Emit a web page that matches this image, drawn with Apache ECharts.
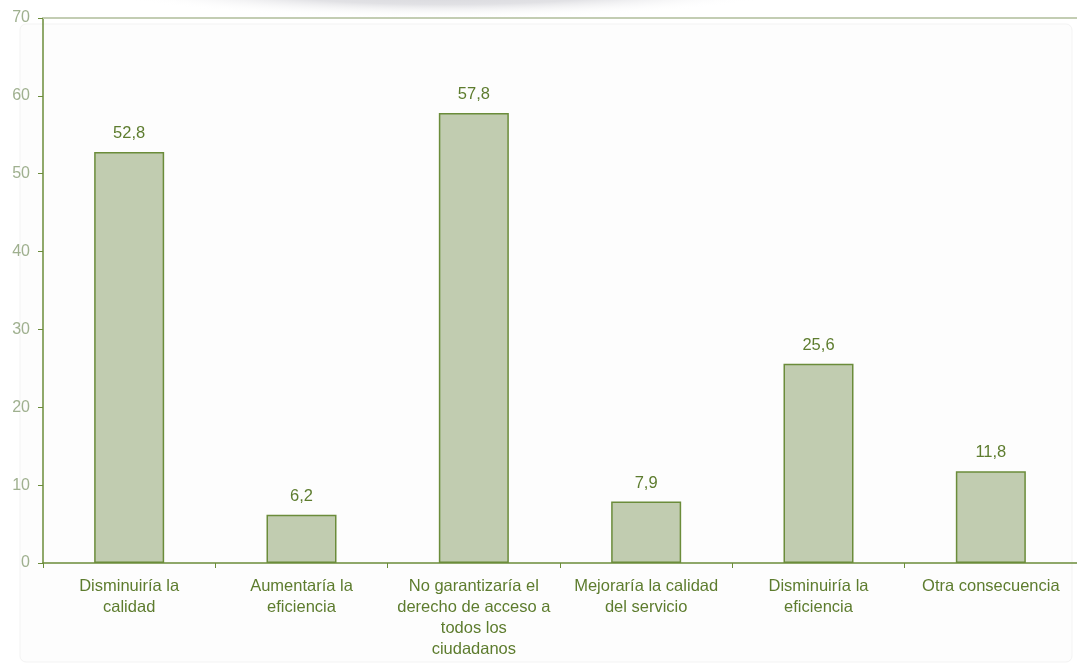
<!DOCTYPE html>
<html><head><meta charset="utf-8">
<script src="https://cdn.jsdelivr.net/npm/echarts@6/dist/echarts.min.js"></script>
<style>html,body{margin:0;padding:0;background:#fff}#c{width:1077px;height:666px}</style>
</head><body><div id="c"></div>
<script>
const categories = ["Disminuiría la\ncalidad","Aumentaría la\neficiencia","No garantizaría el\nderecho de acceso a\ntodos los\nciudadanos","Mejoraría la calidad\ndel servicio","Disminuiría la\neficiencia","Otra consecuencia"];
const values = [52.8, 6.2, 57.8, 7.9, 25.6, 11.8];
const yTicks = [0,10,20,30,40,50,60,70];

const chart = echarts.init(document.getElementById('c'));
const font = '"Liberation Sans", Arial, sans-serif';
chart.setOption({
  animation:false,
  backgroundColor:'#fff',
  graphic:[
    {type:'rect', shape:{x:20,y:24,width:1052,height:638,r:6}, silent:true, z:-11,
     style:{fill:'#fdfdfd', stroke:'#f3f3f3', lineWidth:1}},
    {type:'rect', shape:{x:-30,y:-30,width:60,height:60}, x:445, y:-12, scaleX:11.5, silent:true, z:-10,
     style:{fill:{type:'radial',x:0.5,y:0.5,r:0.5,colorStops:[{offset:0,color:'rgba(205,205,210,1)'},{offset:0.55,color:'rgba(220,220,224,0.85)'},{offset:1,color:'rgba(255,255,255,0)'}]}}}
  ],
  grid:{left:43, width:1041, top:18, bottom:103, containLabel:false},
  xAxis:[{
    type:'category', data:categories,
    axisLine:{lineStyle:{color:'#6b8c3a', width:1.5}},
    axisTick:{show:true, length:5, lineStyle:{color:'#6b8c3a'}},
    axisLabel:{interval:0, color:'#5d7c2e', fontFamily:font, fontSize:16.5, lineHeight:21, margin:13}
  },{
    type:'category', position:'top', data:categories,
    axisLine:{show:true, lineStyle:{color:'#c3cdb3', width:2}},
    axisTick:{show:false}, axisLabel:{show:false}
  }],
  yAxis:{
    type:'value', min:0, max:70, interval:10,
    axisLine:{show:true, lineStyle:{color:'#6b8c3a', width:1.5}},
    axisTick:{show:true, length:5, lineStyle:{color:'#6b8c3a'}},
    splitLine:{show:false},
    axisLabel:{color:'#9fb08f', fontFamily:font, fontSize:16, margin:13,
      formatter:v=> yTicks.includes(v) ? String(v) : ''}
  },
  series:[{
    type:'bar', data:values, barWidth:70,
    itemStyle:{color:'#c1ccb0', borderColor:'#6b8c3a', borderWidth:1.5},
    label:{show:true, position:'top', distance:10, color:'#5d7c2e', fontFamily:font, fontSize:16.5,
      formatter:p=>String(p.value).replace('.', ',')}
  }]
});
</script></body></html>
